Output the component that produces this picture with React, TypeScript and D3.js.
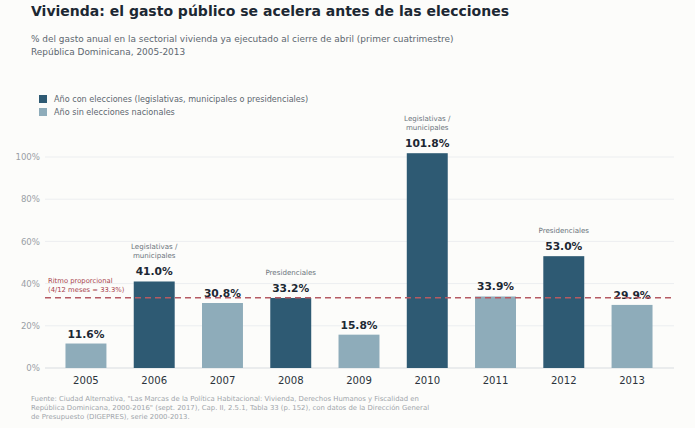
import * as d3 from 'd3';

const years = ['2005', '2006', '2007', '2008', '2009', '2010', '2011', '2012', '2013'];
const values = [11.6, 41.0, 30.8, 33.2, 15.8, 101.8, 33.9, 53.0, 29.9];
const electionYear = [false, true, false, true, false, true, false, true, false];
const electionNotes = ['', 'Legislativas /\nmunicipales', '', 'Presidenciales', '', 'Legislativas /\nmunicipales', '', 'Presidenciales', ''];
const yTicks = [0, 20, 40, 60, 80, 100];
const proportional = 33.3;

const legendItems = [
  { label: 'Año con elecciones (legislativas, municipales o presidenciales)', election: true },
  { label: 'Año sin elecciones nacionales', election: false },
];

const sourceLines = [
  'Fuente: Ciudad Alternativa, "Las Marcas de la Política Habitacional: Vivienda, Derechos Humanos y Fiscalidad en',
  'República Dominicana, 2000-2016" (sept. 2017), Cap. II, 2.5.1, Tabla 33 (p. 152), con datos de la Dirección General',
  'de Presupuesto (DIGEPRES), serie 2000-2013.',
];

const W = 695;
const H = 428;
const font = '"DejaVu Sans", Verdana, sans-serif';
const darkColor = '#2e5a73';
const lightColor = '#8eacba';

export default function App() {
  const x = d3.scaleBand<string>().domain(years).range([45, 673]).paddingInner(0.4).paddingOuter(0.3);
  const y = d3.scaleLinear().domain([0, 100]).range([368, 157]);

  return (
    <svg width={W} height={H} style={{ position: 'absolute', left: 0, top: 0, background: '#fcfcfa', fontFamily: font }}>
      <rect width={W} height={H} fill="#fcfcfa" />
      <text x={31} y={16} fontSize={14} fontWeight="bold" fill="#1c2833">
        Vivienda: el gasto público se acelera antes de las elecciones
      </text>
      <text x={31} y={42} fontSize={8.95} fill="#5d6770">
        % del gasto anual en la sectorial vivienda ya ejecutado al cierre de abril (primer cuatrimestre)
      </text>
      <text x={31} y={54.5} fontSize={8.95} fill="#5d6770">República Dominicana, 2005-2013</text>

      {legendItems.map((d, i) => (
        <g key={d.label} transform={`translate(39, ${95 + i * 13})`}>
          <rect width={8} height={8} fill={d.election ? darkColor : lightColor} />
          <text x={15} y={7.3} fontSize={8.1} fill="#5d6770">{d.label}</text>
        </g>
      ))}

      {yTicks.map(t => (
        <g key={t}>
          <line x1={45} x2={674} y1={y(t)} y2={y(t)} stroke={t === 0 ? '#d8dce0' : '#eceef0'} strokeWidth={t === 0 ? 1.2 : 1} />
          <text x={40} y={y(t) + 3.2} fontSize={8.6} fill="#9aa0a6" textAnchor="end">{t}%</text>
        </g>
      ))}

      {years.map((yr, i) => {
        const bx = x(yr)!;
        const cx = bx + x.bandwidth() / 2;
        const top = y(values[i]);
        const notes = electionNotes[i] ? electionNotes[i].split('\n') : [];
        return (
          <g key={yr}>
            <rect x={bx} y={top} width={x.bandwidth()} height={y(0) - top} fill={electionYear[i] ? darkColor : lightColor} />
            <text x={cx} y={top - 6} fontSize={10.7} fontWeight="bold" fill="#1c2833" textAnchor="middle">
              {values[i].toFixed(1)}%
            </text>
            {notes.map((n, j) => (
              <text key={j} x={cx} y={top - 23 - (notes.length - 1 - j) * 9} fontSize={7.1} fill="#6b747c" textAnchor="middle">
                {n}
              </text>
            ))}
            <text x={cx} y={384} fontSize={10.1} fill="#2b333b" textAnchor="middle">{yr}</text>
          </g>
        );
      })}

      <line x1={45} x2={674} y1={y(proportional)} y2={y(proportional)} stroke="#b55a63" strokeWidth={1.4} strokeDasharray="6,4" />
      <text x={48} y={283} fontSize={6.8} fill="#a8434d">Ritmo proporcional</text>
      <text x={48} y={291.5} fontSize={6.8} fill="#a8434d">(4/12 meses = 33.3%)</text>

      {sourceLines.map((l, i) => (
        <text key={i} x={31} y={401 + i * 9} fontSize={6.9} fill="#a0a5aa">{l}</text>
      ))}
    </svg>
  );
}
